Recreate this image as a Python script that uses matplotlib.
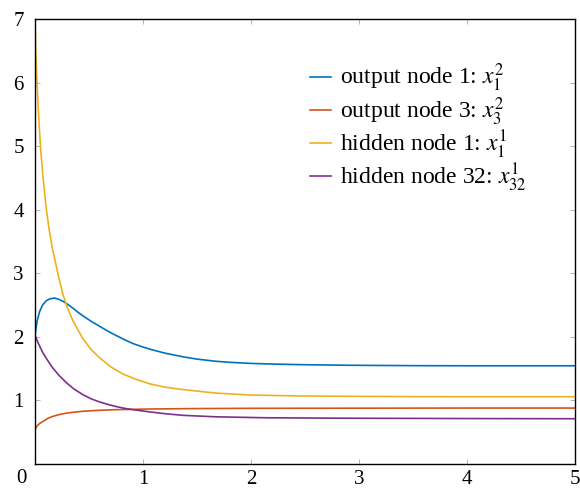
import matplotlib
matplotlib.use("Agg")
import matplotlib.pyplot as plt

plt.rcParams['font.family'] = ['Liberation Serif', 'DejaVu Serif']
plt.rcParams['mathtext.fontset'] = 'stix'

# ---- data ----
out1_x = [0, 0.02, 0.043, 0.07, 0.105, 0.14, 0.182, 0.22, 0.259, 0.30, 0.352, 0.40, 0.444,
          0.52, 0.599, 0.68, 0.753, 0.83, 0.907, 1.0, 1.077, 1.2, 1.373, 1.5, 1.68, 1.8,
          1.99, 2.2, 2.45, 2.92, 3.5, 4.0, 5.0]
out1_y = [2.03, 2.25, 2.40, 2.50, 2.57, 2.60, 2.61, 2.59, 2.56, 2.515, 2.45, 2.385, 2.33,
          2.245, 2.165, 2.085, 2.02, 1.955, 1.895, 1.84, 1.80, 1.745, 1.685, 1.65, 1.615, 1.60,
          1.583, 1.572, 1.563, 1.553, 1.547, 1.545, 1.545]

out3_x = [0, 0.02, 0.045, 0.074, 0.12, 0.167, 0.23, 0.29, 0.36, 0.444, 0.6, 0.753, 1.06,
          1.5, 2.0, 3.0, 4.0, 5.0]
out3_y = [0.54, 0.60, 0.64, 0.67, 0.72, 0.75, 0.78, 0.80, 0.815, 0.83, 0.845, 0.855, 0.865,
          0.872, 0.876, 0.878, 0.88, 0.88]

hid1_x = [0, 0.006, 0.019, 0.033, 0.05, 0.075, 0.105, 0.13, 0.16, 0.222, 0.26, 0.30, 0.352,
          0.444, 0.52, 0.599, 0.70, 0.815, 0.94, 1.065, 1.2, 1.373, 1.68, 1.99, 2.45, 2.92,
          3.5, 4.0, 5.0]
hid1_y = [7.0, 6.54, 6.0, 5.5, 5.0, 4.5, 4.0, 3.7, 3.4, 2.92, 2.66, 2.46, 2.25,
          1.97, 1.80, 1.67, 1.53, 1.415, 1.33, 1.26, 1.21, 1.17, 1.115, 1.085, 1.07, 1.065,
          1.06, 1.058, 1.058]

hid32_x = [0, 0.03, 0.07, 0.105, 0.167, 0.222, 0.29, 0.36, 0.444, 0.52, 0.6, 0.68, 0.753,
           0.83, 0.907, 1.06, 1.2, 1.373, 1.68, 2.145, 2.92, 4.0, 5.0]
hid32_y = [2.03, 1.90, 1.76, 1.66, 1.505, 1.395, 1.28, 1.18, 1.09, 1.025, 0.975, 0.935, 0.903,
           0.875, 0.855, 0.82, 0.792, 0.765, 0.742, 0.727, 0.72, 0.715, 0.712]

labels = [r'output node 1: $x_1^2$', r'output node 3: $x_3^2$',
          r'hidden node 1: $x_1^1$', r'hidden node 32: $x_{32}^1$']
colors = ['#0072BD', '#D95319', '#EDB120', '#7E2F8E']
xticks = [0, 1, 2, 3, 4, 5]
yticks = [1, 2, 3, 4, 5, 6, 7]

fig = plt.figure(figsize=(5.8, 4.9), dpi=100)
ax = fig.add_axes([35/580, 1-464/490, 540/580, 445/490])

series = [(out1_x, out1_y), (out3_x, out3_y), (hid1_x, hid1_y), (hid32_x, hid32_y)]
for (xs, ys), c, lab in zip(series, colors, labels):
    ax.plot(xs, ys, color=c, lw=1.2, label=lab)

ax.set_xlim(0, 5)
ax.set_ylim(0, 7)
ax.set_xticks(xticks)
ax.set_xticklabels([''] + [str(t) for t in xticks[1:]])
ax.set_yticks(yticks)
ax.set_yticklabels([str(t) for t in yticks])
ax.annotate('0', xy=(0, 0), xycoords=('data', 'axes fraction'), xytext=(-14, -5),
            textcoords='offset pixels', ha='center', va='top', fontsize=15)

ax.tick_params(direction='in', length=3.5, width=0.6, color='#aaaaaa',
               top=True, right=True, labelsize=15)
ax.tick_params(axis='x', pad=4)
ax.tick_params(axis='y', pad=8)
for s in ax.spines.values():
    s.set_linewidth(1.0)
    s.set_color('black')

leg = ax.legend(loc='upper left', bbox_to_anchor=(310/580, 1-62/490),
                bbox_transform=fig.transFigure, frameon=False, fontsize=17,
                handlelength=0.9, handletextpad=0.35, borderpad=0, borderaxespad=0,
                labelspacing=0.05)

fig.savefig('out.png', dpi=100)
